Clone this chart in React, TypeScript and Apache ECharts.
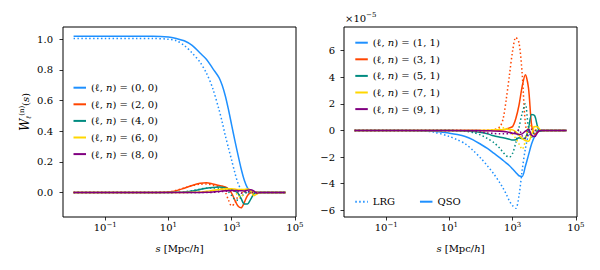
import React, { useEffect, useRef } from 'react';
import * as echarts from 'echarts';

// log10(s) sample points, s in Mpc/h
const LOG_S = [-2, -1, 0, 0.5, 1, 1.25, 1.5, 1.75, 2, 2.2, 2.4, 2.6, 2.7, 2.8, 2.9, 3.0, 3.1, 3.2, 3.3, 3.4, 3.5, 3.6, 3.7, 3.8, 3.9, 4.0, 4.7];

// Left panel: n = 0 window multipoles
const QSO_L0 = [1.02, 1.02, 1.02, 1.02, 1.015, 1.005, 0.99, 0.96, 0.91, 0.87, 0.81, 0.75, 0.70, 0.63, 0.54, 0.44, 0.34, 0.245, 0.155, 0.08, 0.03, 0.01, 0.002, 0, 0, 0, 0];
const LRG_L0 = [1.005, 1.005, 1.005, 1.005, 1.0, 0.99, 0.96, 0.91, 0.85, 0.78, 0.68, 0.54, 0.46, 0.37, 0.29, 0.21, 0.13, 0.06, 0.02, 0.005, 0, 0, 0, 0, 0, 0, 0];
const QSO_L2 = [0, 0, 0, 0, 0.003, 0.012, 0.028, 0.046, 0.06, 0.064, 0.056, 0.046, 0.042, 0.036, 0.022, -0.005, -0.05, -0.088, -0.1, -0.065, -0.02, 0, 0.003, 0.001, 0, 0, 0];
const LRG_L2 = [0, 0, 0, 0, 0.004, 0.014, 0.03, 0.045, 0.054, 0.055, 0.048, 0.035, 0.025, 0.002, -0.05, -0.088, -0.07, -0.025, -0.002, 0, 0, 0, 0, 0, 0, 0, 0];
const QSO_L4 = [0, 0, 0, 0, 0, 0.001, 0.003, 0.01, 0.02, 0.028, 0.033, 0.035, 0.034, 0.03, 0.025, 0.02, 0.01, -0.005, -0.04, -0.075, -0.075, -0.045, -0.01, 0, 0, 0, 0];
const LRG_L4 = [0, 0, 0, 0, 0, 0.001, 0.004, 0.012, 0.022, 0.028, 0.03, 0.028, 0.024, 0.018, 0.005, -0.02, -0.045, -0.05, -0.03, -0.008, 0, 0, 0, 0, 0, 0, 0];
const QSO_L6 = [0, 0, 0, 0, 0, 0, 0, 0.001, 0.003, 0.008, 0.014, 0.02, 0.022, 0.024, 0.024, 0.024, 0.022, 0.02, 0.02, 0.02, 0.022, 0.015, -0.02, -0.01, 0, 0, 0];
const LRG_L6 = [0, 0, 0, 0, 0, 0, 0, 0, 0.001, 0.005, 0.01, 0.015, 0.017, 0.018, 0.017, 0.015, 0.005, -0.02, -0.03, 0.01, 0.02, 0, 0, 0, 0, 0, 0];
const QSO_L8 = [0, 0, 0, 0, 0, 0, 0, 0, 0, 0.001, 0.003, 0.007, 0.009, 0.011, 0.012, 0.013, 0.013, 0.012, 0.011, 0.01, 0.015, 0.018, 0.01, -0.005, 0, 0, 0];
const LRG_L8 = [0, 0, 0, 0, 0, 0, 0, 0, 0, 0, 0.001, 0.004, 0.006, 0.008, 0.009, 0.01, 0.008, 0.005, -0.005, 0.005, 0.01, 0, 0, 0, 0, 0, 0];

// Right panel: n = 1 window multipoles, in units of 1e-5
const LRG_L1 = [0, 0, -0.02, -0.12, -0.45, -0.7, -1.0, -1.5, -2.1, -2.65, -3.25, -3.95, -4.35, -4.8, -5.3, -5.65, -5.85, -4.9, -3.0, -1.4, -0.35, 0.05, 0, 0, 0, 0, 0];
const QSO_L1 = [0, 0, -0.01, -0.05, -0.2, -0.3, -0.45, -0.7, -1.05, -1.35, -1.7, -2.05, -2.25, -2.45, -2.65, -2.9, -3.15, -3.4, -3.45, -2.7, -1.85, -1.0, -0.4, 0, 0.05, 0, 0];
const LRG_L3 = [0, 0, 0, 0, 0, 0, 0, 0, 0, 0.01, 0.05, 0.3, 0.9, 2.4, 4.2, 6.0, 7.0, 6.6, 4.3, 0.6, -0.4, -0.3, 0, 0, 0, 0, 0];
const QSO_L3 = [0, 0, 0, 0, 0, 0, 0, 0, 0, 0, 0.01, 0.02, 0.05, 0.1, 0.2, 0.3, 0.9, 1.9, 3.3, 4.2, 3.2, 0.4, -0.3, -0.1, 0, 0, 0];
const LRG_L5 = [0, 0, 0, 0, 0, -0.02, -0.05, -0.15, -0.35, -0.6, -0.9, -1.35, -1.65, -1.9, -2.0, -1.7, -0.9, 0.2, 1.3, 2.0, 0.2, -0.5, -0.1, 0, 0, 0, 0];
const QSO_L5 = [0, 0, 0, 0, 0, -0.01, -0.03, -0.08, -0.15, -0.25, -0.4, -0.5, -0.55, -0.6, -0.66, -0.72, -0.7, -0.55, -0.6, -0.55, 0.1, 1.2, 1.1, 0.2, -0.05, 0, 0];
const LRG_L7 = [0, 0, 0, 0, 0, 0, 0, 0, 0.01, 0.03, 0.05, 0.15, 0.2, 0.15, 0, -0.3, -0.6, -1.0, -1.4, -0.8, 0.2, 0.4, 0.1, 0, 0, 0, 0];
const QSO_L7 = [0, 0, 0, 0, 0, 0, 0, 0, 0, 0.01, 0.03, 0.05, 0.08, 0.1, 0.08, 0.05, -0.1, -0.35, -0.6, -0.75, -0.8, -0.3, 0.3, 0.25, 0, 0, 0];
const LRG_L9 = [0, 0, 0, 0, 0, 0, -0.02, -0.05, -0.12, -0.18, -0.22, -0.25, -0.25, -0.25, -0.22, -0.2, -0.1, 0.05, -0.4, -0.6, -0.2, 0.1, 0, 0, 0, 0, 0];
const QSO_L9 = [0, 0, 0, 0, 0, 0, 0, 0, -0.01, -0.02, -0.03, -0.05, -0.07, -0.1, -0.15, -0.2, -0.25, -0.3, -0.25, -0.05, 0.1, -0.35, -0.45, -0.1, 0, 0, 0];

const LEFT_NAMES = ['(ℓ, n) = (0, 0)', '(ℓ, n) = (2, 0)', '(ℓ, n) = (4, 0)', '(ℓ, n) = (6, 0)', '(ℓ, n) = (8, 0)'];
const RIGHT_NAMES = ['(ℓ, n) = (1, 1)', '(ℓ, n) = (3, 1)', '(ℓ, n) = (5, 1)', '(ℓ, n) = (7, 1)', '(ℓ, n) = (9, 1)'];
const X_TICKS = [-1, 1, 3, 5];
const Y_TICKS_LEFT = [0, 0.2, 0.4, 0.6, 0.8, 1.0];
const Y_TICKS_RIGHT = [-6, -4, -2, 0, 2, 4, 6];

const COLORS = ['#1E90FF', '#FF4500', '#008B80', '#FFD700', '#800080'];
const FONT = "'DejaVu Serif', 'Liberation Serif', serif";
const FS = 10;

const LEFT_QSO = [QSO_L0, QSO_L2, QSO_L4, QSO_L6, QSO_L8];
const LEFT_LRG = [LRG_L0, LRG_L2, LRG_L4, LRG_L6, LRG_L8];
const RIGHT_QSO = [QSO_L1, QSO_L3, QSO_L5, QSO_L7, QSO_L9];
const RIGHT_LRG = [LRG_L1, LRG_L3, LRG_L5, LRG_L7, LRG_L9];

const DOT = [1.5, 2.4];

function pairs(ys: number[]) {
  return LOG_S.map((x, i) => [x, ys[i]]);
}

function buildSeries() {
  const out: any[] = [];
  const add = (names: string[], qso: number[][], lrg: number[][], idx: number) => {
    names.forEach((nm, k) => {
      out.push({
        type: 'line', name: nm, xAxisIndex: idx, yAxisIndex: idx,
        data: pairs(qso[k]), showSymbol: false, symbol: 'none', smooth: 0.3,
        color: COLORS[k], lineStyle: { width: 1.5, type: 'solid', color: COLORS[k] },
      });
      out.push({
        type: 'line', name: 'LRG ' + nm, xAxisIndex: idx, yAxisIndex: idx,
        data: pairs(lrg[k]), showSymbol: false, symbol: 'none', smooth: 0.3,
        color: COLORS[k], lineStyle: { width: 1.5, type: DOT, color: COLORS[k] },
      });
    });
  };
  add(LEFT_NAMES, LEFT_QSO, LEFT_LRG, 0);
  add(RIGHT_NAMES, RIGHT_QSO, RIGHT_LRG, 1);
  out.push({ type: 'line', name: 'LRG', xAxisIndex: 1, yAxisIndex: 1, data: [], symbol: 'none', color: COLORS[0], lineStyle: { width: 1.5, type: DOT, color: COLORS[0] } });
  out.push({ type: 'line', name: 'QSO', xAxisIndex: 1, yAxisIndex: 1, data: [], symbol: 'none', color: COLORS[0], lineStyle: { width: 1.5, type: 'solid', color: COLORS[0] } });
  return out;
}

const minus = (v: number) => (v < 0 ? '−' + Math.abs(v) : String(v));

const TICK = { show: true, inside: false, length: 3.5, lineStyle: { color: '#000', width: 0.8 } };

const xAxis = (gridIndex: number) => ({
  type: 'value', gridIndex, min: -2.335, max: 5.035,
  splitLine: { show: false },
  axisLine: { show: false, onZero: false },
  axisTick: { ...TICK, customValues: X_TICKS },
  axisLabel: {
    customValues: X_TICKS, margin: 4, color: '#000', hideOverlap: false,
    formatter: (v: number) => '{b|10}{s|' + minus(v) + '}',
    rich: {
      b: { fontFamily: FONT, fontSize: FS, color: '#000', lineHeight: 13 },
      s: { fontFamily: FONT, fontSize: 7, color: '#000', lineHeight: 8, verticalAlign: 'top' },
    },
  },
});

const richText = {
  i: { fontFamily: FONT, fontSize: FS, fontStyle: 'italic', fill: '#000', color: '#000' },
};

const legendFormatter = (name: string) => name.replace(', n)', ', {i|n})');

const legendBase = {
  orient: 'vertical', padding: 0, z: 1,
  itemWidth: 12.5, itemHeight: 8, itemGap: 2.6, selectedMode: false,
  itemStyle: { opacity: 0 },
  textStyle: { fontFamily: FONT, fontSize: FS, color: '#000', lineHeight: 14, rich: { i: { ...richText.i, lineHeight: 14 } } },
};

function buildOption() {
  return {
    animation: false,
    grid: [
      { left: 63, top: 27, width: 233, height: 190, show: true, borderColor: '#000', borderWidth: 1, backgroundColor: 'transparent' },
      { left: 344, top: 27, width: 233, height: 190, show: true, borderColor: '#000', borderWidth: 1, backgroundColor: 'transparent' },
    ],
    xAxis: [xAxis(0), xAxis(1)],
    yAxis: [
      {
        type: 'value', gridIndex: 0, min: -0.16, max: 1.08, z: 100,
        name: '{w|W}{sb|ℓ}{sp|(n)}{b|(}{i|s}{b|)}',
        nameLocation: 'middle', nameRotate: 90, nameGap: 31,
        nameTextStyle: {
          color: '#000', padding: [0, 0, 0, 20],
          rich: {
            w: { fontFamily: FONT, fontSize: 12, fontStyle: 'italic', color: '#000', lineHeight: 14 },
            sb: { fontFamily: FONT, fontSize: 7, fontStyle: 'italic', color: '#000', lineHeight: 6, verticalAlign: 'bottom' },
            sp: { fontFamily: FONT, fontSize: 7, color: '#000', lineHeight: 6, verticalAlign: 'top' },
            b: { fontFamily: FONT, fontSize: FS, color: '#000', lineHeight: 14 },
            i: { fontFamily: FONT, fontSize: FS, fontStyle: 'italic', color: '#000', lineHeight: 14 },
          },
        },
        splitLine: { show: false }, axisLine: { show: false, onZero: false },
        axisTick: { ...TICK, customValues: Y_TICKS_LEFT },
        axisLabel: { customValues: Y_TICKS_LEFT, hideOverlap: false, margin: 10, color: '#000', fontFamily: FONT, fontSize: FS, lineHeight: 10, formatter: (v: number) => v.toFixed(1) },
      },
      {
        type: 'value', gridIndex: 1, min: -6.5, max: 7.78, z: 100,
        splitLine: { show: false }, axisLine: { show: false, onZero: false },
        axisTick: { ...TICK, customValues: Y_TICKS_RIGHT },
        axisLabel: { customValues: Y_TICKS_RIGHT, hideOverlap: false, margin: 9, color: '#000', fontFamily: FONT, fontSize: FS, lineHeight: 10, formatter: (v: number) => minus(Math.round(v)) },
      },
    ],
    legend: [
      { ...legendBase, data: LEFT_NAMES, left: 72.5, top: 80.7, formatter: legendFormatter },
      { ...legendBase, data: RIGHT_NAMES, left: 354.3, top: 35.7, formatter: legendFormatter },
      { ...legendBase, data: ['LRG', 'QSO'], orient: 'horizontal', left: 354.3, top: 194.7, itemGap: 24 },
    ],
    series: buildSeries(),
    graphic: [
      {
        id: 'xname0', type: 'text', x: 179.5, y: 248,
        style: { text: '{i|s} [Mpc/{i|h}]', font: `${FS}px ${FONT}`, fill: '#000', textAlign: 'center', textVerticalAlign: 'middle', rich: richText },
      },
      {
        id: 'xname1', type: 'text', x: 460.5, y: 248,
        style: { text: '{i|s} [Mpc/{i|h}]', font: `${FS}px ${FONT}`, fill: '#000', textAlign: 'center', textVerticalAlign: 'middle', rich: richText },
      },
      {
        id: 'scale', type: 'text', x: 345, y: 18,
        style: {
          text: '{b|×10}{s|−5}', textAlign: 'left', textVerticalAlign: 'middle',
          rich: {
            b: { fontFamily: FONT, fontSize: FS, fill: '#000', color: '#000', lineHeight: 13 },
            s: { fontFamily: FONT, fontSize: 7, fill: '#000', color: '#000', lineHeight: 8, verticalAlign: 'top' },
          },
        },
      },
    ],
  };
}

export default function App() {
  const ref = useRef<HTMLDivElement>(null);
  useEffect(() => {
    if (!ref.current) return;
    const chart = echarts.init(ref.current, undefined, { renderer: 'svg' });
    chart.setOption(buildOption() as any);
    return () => chart.dispose();
  }, []);
  return <div ref={ref} style={{ position: 'absolute', left: 0, top: 0, width: 600, height: 270 }} />;
}
